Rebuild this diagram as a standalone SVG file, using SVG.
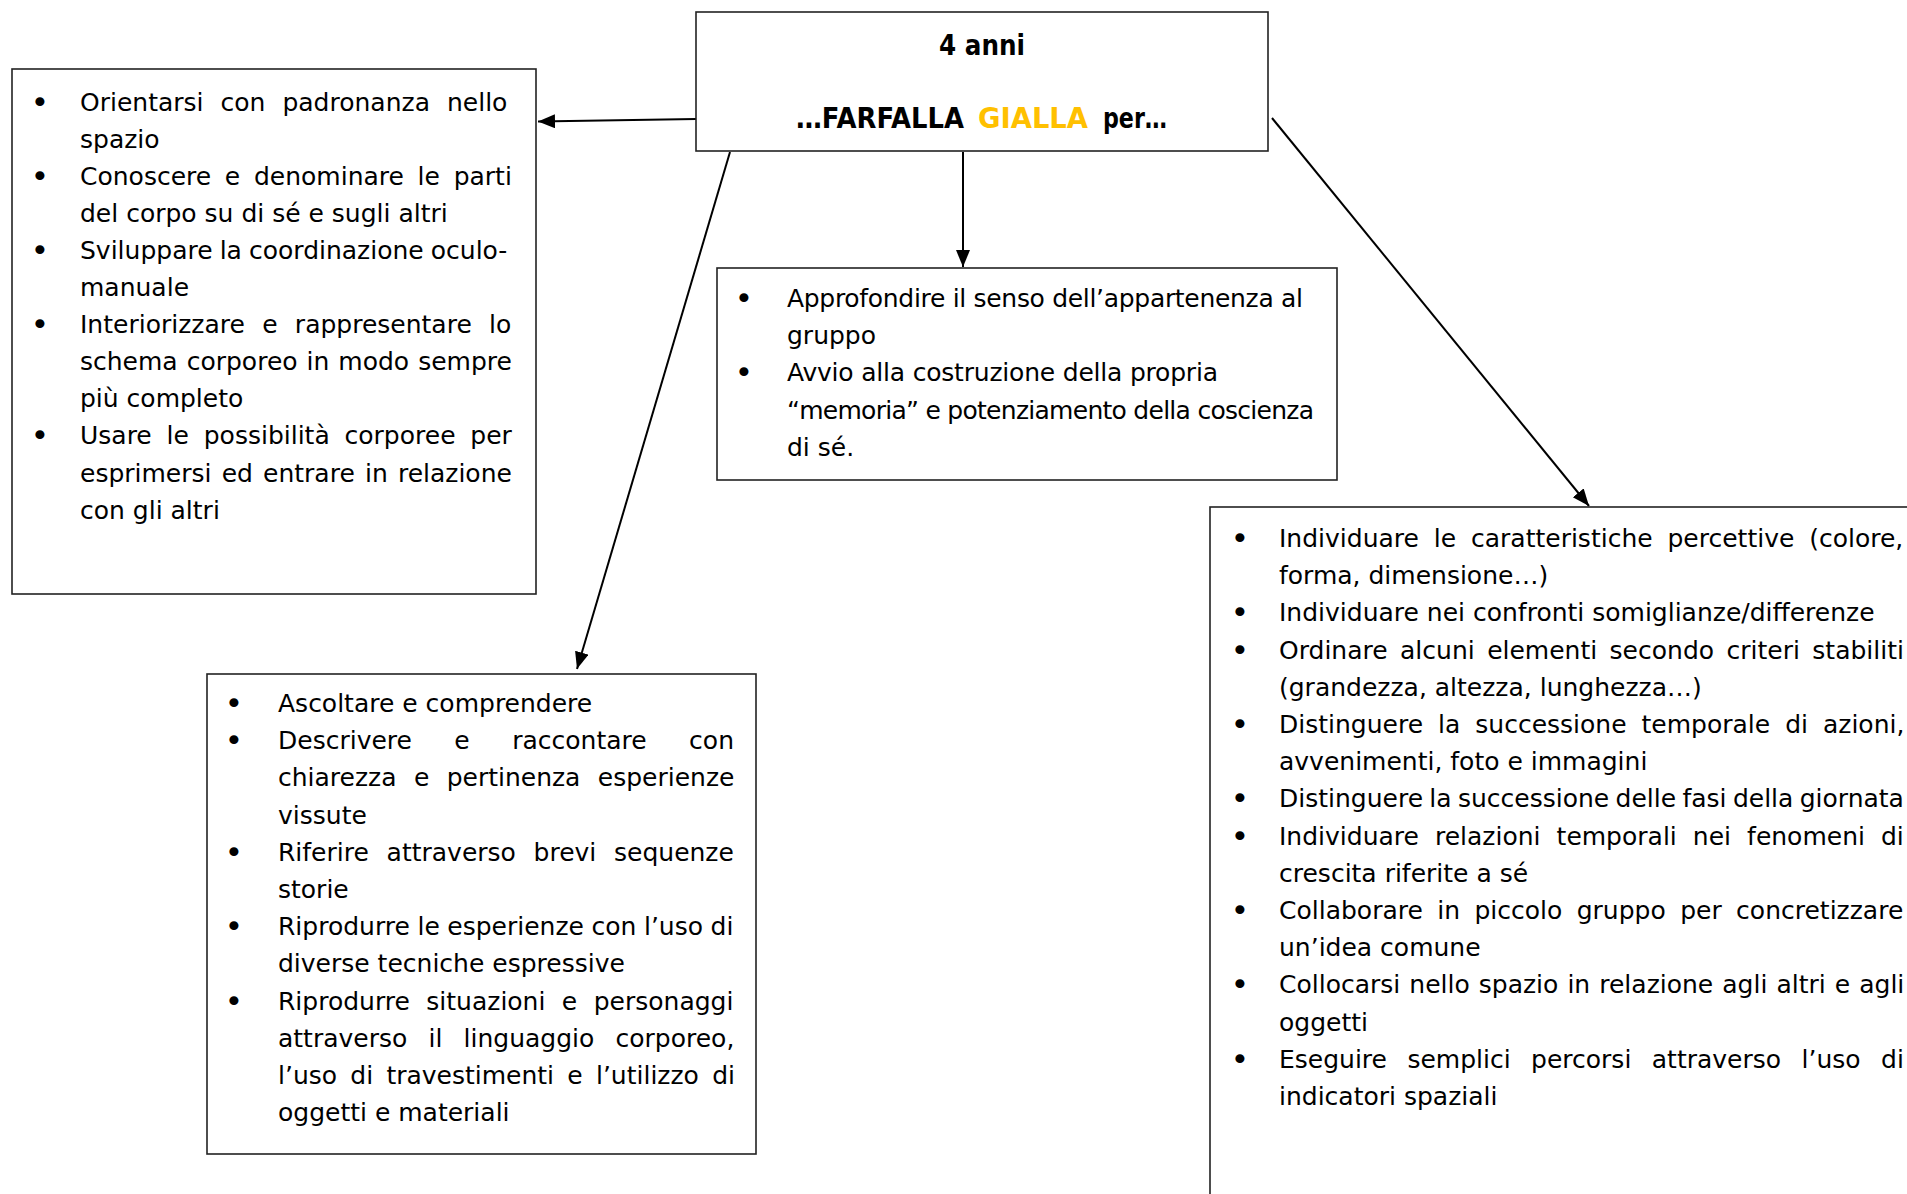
<svg xmlns="http://www.w3.org/2000/svg" width="1907" height="1194" viewBox="0 0 1907 1194">
<style>
.bg{fill:#fff}
.box{fill:#fff;stroke:#222;stroke-width:1.6}
.t{font-family:"DejaVu Sans","Liberation Sans",sans-serif;font-size:25px;fill:#000}
.b{font-family:"DejaVu Sans","Liberation Sans",sans-serif;font-size:31px;fill:#000;text-anchor:middle}
.h{font-family:"DejaVu Sans","Liberation Sans",sans-serif;font-size:28px;font-weight:bold;fill:#000}
.y{fill:#FFC000}
.c{stroke:#000;stroke-width:2;fill:none;marker-end:url(#ah)}
</style>
<defs>
<marker id="ah" markerUnits="userSpaceOnUse" markerWidth="20" markerHeight="16" refX="17" refY="7" orient="auto">
<path d="M0,0 L17,7 L0,14 z" fill="#000"/>
</marker>
</defs>
<rect class="bg" x="0" y="0" width="1907" height="1194"/>

<g id="connectors">
<line class="c" x1="696" y1="119" x2="538" y2="121.5"/>
<line class="c" x1="730" y1="152" x2="577" y2="669"/>
<line class="c" x1="963" y1="152" x2="963" y2="267"/>
<line class="c" x1="1272" y1="118" x2="1589" y2="506"/>
</g>

<g id="node-title">
<rect class="box" x="696" y="12" width="572" height="139"/>
<text class="h" x="939" y="55" textLength="86" lengthAdjust="spacingAndGlyphs">4 anni</text>
<text class="h" x="796" y="128" textLength="168" lengthAdjust="spacingAndGlyphs">…FARFALLA</text>
<text class="h y" x="978" y="128" textLength="110" lengthAdjust="spacingAndGlyphs">GIALLA</text>
<text class="h" x="1103" y="128" textLength="64" lengthAdjust="spacingAndGlyphs">per…</text>
</g>

<g id="node-left">
<rect class="box" x="12" y="69" width="524" height="525"/>
<text class="b" x="40" y="112.5">•</text>
<text class="b" x="40" y="186.7">•</text>
<text class="b" x="40" y="260.9">•</text>
<text class="b" x="40" y="335.1">•</text>
<text class="b" x="40" y="446.4">•</text>
<text class="t" x="80" y="110.5" style="word-spacing:9.07px">Orientarsi con padronanza nello</text>
<text class="t" x="80" y="147.6">spazio</text>
<text class="t" x="80" y="184.7" style="word-spacing:5.76px">Conoscere e denominare le parti</text>
<text class="t" x="80" y="221.8">del corpo su di sé e sugli altri</text>
<text class="t" x="80" y="258.9" style="word-spacing:-0.88px">Sviluppare la coordinazione oculo-</text>
<text class="t" x="80" y="296">manuale</text>
<text class="t" x="80" y="333.1" style="word-spacing:9.38px">Interiorizzare e rappresentare lo</text>
<text class="t" x="80" y="370.2" style="word-spacing:1.05px">schema corporeo in modo sempre</text>
<text class="t" x="80" y="407.3">più completo</text>
<text class="t" x="80" y="444.4" style="word-spacing:6.88px">Usare le possibilità corporee per</text>
<text class="t" x="80" y="481.5" style="word-spacing:2.22px">esprimersi ed entrare in relazione</text>
<text class="t" x="80" y="518.6">con gli altri</text>
</g>

<g id="node-middle">
<rect class="box" x="717" y="268" width="620" height="212"/>
<text class="b" x="744" y="309">•</text>
<text class="b" x="744" y="383.4">•</text>
<text class="t" x="787" y="307" textLength="516" lengthAdjust="spacing">Approfondire il senso dell’appartenenza al</text>
<text class="t" x="787" y="344.2">gruppo</text>
<text class="t" x="787" y="381.4" textLength="431" lengthAdjust="spacing">Avvio alla costruzione della propria</text>
<text class="t" x="787" y="418.6" textLength="527" lengthAdjust="spacing">“memoria” e potenziamento della coscienza</text>
<text class="t" x="787" y="455.8">di sé.</text>
</g>

<g id="node-bottom-left">
<rect class="box" x="207" y="674" width="549" height="480"/>
<text class="b" x="234" y="714">•</text>
<text class="b" x="234" y="751.2">•</text>
<text class="b" x="234" y="862.8">•</text>
<text class="b" x="234" y="937.2">•</text>
<text class="b" x="234" y="1011.6">•</text>
<text class="t" x="278" y="712">Ascoltare e comprendere</text>
<text class="t" x="278" y="749.2" style="word-spacing:34.5px">Descrivere e raccontare con</text>
<text class="t" x="278" y="786.4" style="word-spacing:9.42px">chiarezza e pertinenza esperienze</text>
<text class="t" x="278" y="823.6">vissute</text>
<text class="t" x="278" y="860.8" style="word-spacing:9.78px">Riferire attraverso brevi sequenze</text>
<text class="t" x="278" y="898">storie</text>
<text class="t" x="278" y="935.2" style="word-spacing:-0.38px">Riprodurre le esperienze con l’uso di</text>
<text class="t" x="278" y="972.4">diverse tecniche espressive</text>
<text class="t" x="278" y="1009.6" style="word-spacing:8.5px">Riprodurre situazioni e personaggi</text>
<text class="t" x="278" y="1046.8" style="word-spacing:13.25px">attraverso il linguaggio corporeo,</text>
<text class="t" x="278" y="1084" style="word-spacing:5.31px">l’uso di travestimenti e l’utilizzo di</text>
<text class="t" x="278" y="1121.2">oggetti e materiali</text>
</g>

<g id="node-right">
<rect class="box" x="1210" y="507" width="760" height="760"/>
<text class="b" x="1240" y="549">•</text>
<text class="b" x="1240" y="623.4">•</text>
<text class="b" x="1240" y="660.6">•</text>
<text class="b" x="1240" y="735">•</text>
<text class="b" x="1240" y="809.4">•</text>
<text class="b" x="1240" y="846.6">•</text>
<text class="b" x="1240" y="921">•</text>
<text class="b" x="1240" y="995.4">•</text>
<text class="b" x="1240" y="1069.8">•</text>
<text class="t" x="1279" y="547" style="word-spacing:6.93px">Individuare le caratteristiche percettive (colore,</text>
<text class="t" x="1279" y="584.2">forma, dimensione…)</text>
<text class="t" x="1279" y="621.4">Individuare nei confronti somiglianze/differenze</text>
<text class="t" x="1279" y="658.6" style="word-spacing:4.49px">Ordinare alcuni elementi secondo criteri stabiliti</text>
<text class="t" x="1279" y="695.8">(grandezza, altezza, lunghezza…)</text>
<text class="t" x="1279" y="733" style="word-spacing:7.05px">Distinguere la successione temporale di azioni,</text>
<text class="t" x="1279" y="770.2">avvenimenti, foto e immagini</text>
<text class="t" x="1279" y="807.4" style="word-spacing:-1.6px">Distinguere la successione delle fasi della giornata</text>
<text class="t" x="1279" y="844.6" style="word-spacing:8.12px">Individuare relazioni temporali nei fenomeni di</text>
<text class="t" x="1279" y="881.8">crescita riferite a sé</text>
<text class="t" x="1279" y="919" style="word-spacing:6.47px">Collaborare in piccolo gruppo per concretizzare</text>
<text class="t" x="1279" y="956.2">un’idea comune</text>
<text class="t" x="1279" y="993.4" style="word-spacing:1.11px">Collocarsi nello spazio in relazione agli altri e agli</text>
<text class="t" x="1279" y="1030.6">oggetti</text>
<text class="t" x="1279" y="1067.8" style="word-spacing:12.5px">Eseguire semplici percorsi attraverso l’uso di</text>
<text class="t" x="1279" y="1105">indicatori spaziali</text>
</g>
</svg>
